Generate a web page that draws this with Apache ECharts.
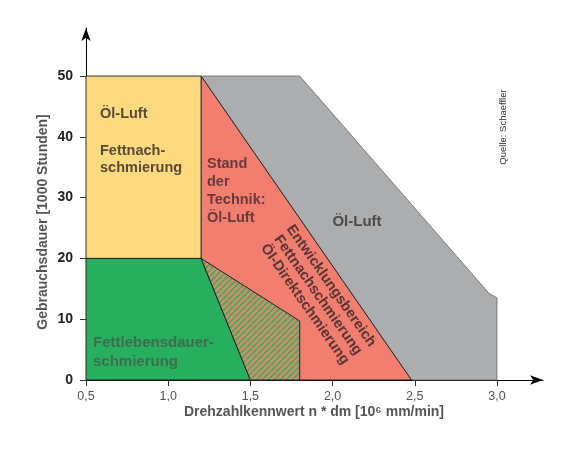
<!DOCTYPE html>
<html><head><meta charset="utf-8">
<script src="https://cdn.jsdelivr.net/npm/echarts@6/dist/echarts.min.js"></script>
<style>html,body{margin:0;padding:0;background:#fff}#c{width:580px;height:451px}</style>
</head><body><div id="c"></div>
<script>
// Axis ticks
const xTicks = [0.5, 1.0, 1.5, 2.0, 2.5, 3.0];
const yTicks = [0, 10, 20, 30, 40, 50];
// Region polygons [x (10^6 mm/min), y (1000 h)]
const grayRegion   = [[1.2,50],[1.8,50],[2.95,14.3],[3.0,13.5],[3.0,0],[2.48,0]];
const redRegion    = [[1.2,50],[2.48,0],[1.2,0]];
const yellowRegion = [[0.5,20],[0.5,50],[1.2,50],[1.2,20]];
const greenRegion  = [[0.5,0],[0.5,20],[1.2,20],[1.5,0]];
const hatchRegion  = [[1.2,20],[1.8,9.7],[1.8,0],[1.5,0]];

const FONT = '"Liberation Sans", Arial, sans-serif';

function makeHatch(){
  const p = 6;
  const c = document.createElement('canvas'); c.width = p; c.height = p;
  const g = c.getContext('2d');
  g.fillStyle = '#DB8A6C'; g.fillRect(0,0,p,p);
  g.strokeStyle = '#4FAA5E'; g.lineWidth = 2.2;
  for (const o of [-p, 0, p]) { g.beginPath(); g.moveTo(o, p); g.lineTo(o + p, 0); g.stroke(); }
  return c;
}
const hatch = makeHatch();

function poly(points, style, z){
  return {
    type:'custom', coordinateSystem:'cartesian2d', data:[[1,10]], z:z, silent:true,
    renderItem:(params, api)=>({type:'polygon', shape:{points: points.map(p=>api.coord(p))}, style: style})
  };
}

const chart = echarts.init(document.getElementById('c'), null, {renderer:'canvas'});
const fmt = v => v.toFixed(1).replace('.', ',');
chart.setOption({
  animation:false,
  grid:{left:86, right:37, top:28, bottom:71, containLabel:false},
  xAxis:{type:'value', min:0.5, max:3.28,
    axisLine:{show:true, lineStyle:{color:'#000', width:1}, symbol:['none','arrow'], symbolSize:[7,13]},
    axisTick:{show:true, length:6, customValues:xTicks, lineStyle:{color:'#333'}},
    axisLabel:{customValues:xTicks, formatter:fmt, color:'#555', fontSize:12.5, fontFamily:FONT, margin:10},
    splitLine:{show:false}},
  yAxis:{type:'value', min:0, max:57.9,
    axisLine:{show:true, lineStyle:{color:'#000', width:1}, symbol:['none','arrow'], symbolSize:[7,13]},
    axisTick:{show:true, length:6, customValues:yTicks, lineStyle:{color:'#333'}},
    axisLabel:{customValues:yTicks, color:'#222', fontSize:14, fontWeight:'bold', fontFamily:FONT, margin:13},
    splitLine:{show:false}},
  series:[
    poly(grayRegion, {fill:'#ACADAF', stroke:'#666', lineWidth:0.8}, 1),
    poly(redRegion, {fill:'#F27E70', stroke:'#222', lineWidth:1}, 2),
    poly(yellowRegion, {fill:'#FDD97F', stroke:'#333', lineWidth:1}, 3),
    poly(greenRegion, {fill:'#27AE5E', stroke:'#222', lineWidth:1}, 4),
    poly(hatchRegion, {fill:{image:hatch, repeat:'repeat'}, stroke:'#222', lineWidth:1}, 5)
  ],
  graphic:[
    {type:'text', x:100, y:114, z:100, style:{text:'Öl-Luft', font:'bold 14.5px '+FONT, fill:'#5A4A36', textVerticalAlign:'middle'}},
    {type:'text', x:100, y:159.5, z:100, style:{text:'Fettnach-\nschmierung', font:'bold 14.5px '+FONT, fill:'#5A4A36', textVerticalAlign:'middle', lineHeight:17}},
    {type:'text', x:207, y:191, z:100, style:{text:'Stand\nder\nTechnik:\nÖl-Luft', font:'bold 14.5px '+FONT, fill:'#6A3A3A', textVerticalAlign:'middle', lineHeight:18}},
    {type:'text', x:357, y:222, z:100, style:{text:'Öl-Luft', font:'bold 15px '+FONT, fill:'#4B4B4B', textAlign:'center', textVerticalAlign:'middle'}},
    {type:'text', x:93, y:352.5, z:100, style:{text:'Fettlebensdauer-\nschmierung', font:'bold 15px '+FONT, fill:'#3E6E4A', textVerticalAlign:'middle', lineHeight:19}},
    {type:'text', x:318, y:295, rotation:-55*Math.PI/180, z:100, style:{text:'Entwicklungsbereich\nFettnachschmierung\nÖl-Direktschmierung', font:'bold 14.5px '+FONT, fill:'#5A3535', textAlign:'center', textVerticalAlign:'middle', lineHeight:16}},
    {type:'text', x:503, y:127, rotation:Math.PI/2, z:100, style:{text:'Quelle: Schaeffler', font:'9.5px '+FONT, fill:'#333', textAlign:'center', textVerticalAlign:'middle'}},
    {type:'text', x:43, y:222, rotation:Math.PI/2, z:100, style:{text:'Gebrauchsdauer [1000 Stunden]', font:'bold 14px '+FONT, fill:'#555', textAlign:'center', textVerticalAlign:'middle'}},
    {type:'text', x:314, y:412, z:100, style:{text:'Drehzahlkennwert n * dm [10⁶ mm/min]', font:'bold 14px '+FONT, fill:'#555', textAlign:'center', textVerticalAlign:'middle'}}
  ]
});
</script></body></html>
